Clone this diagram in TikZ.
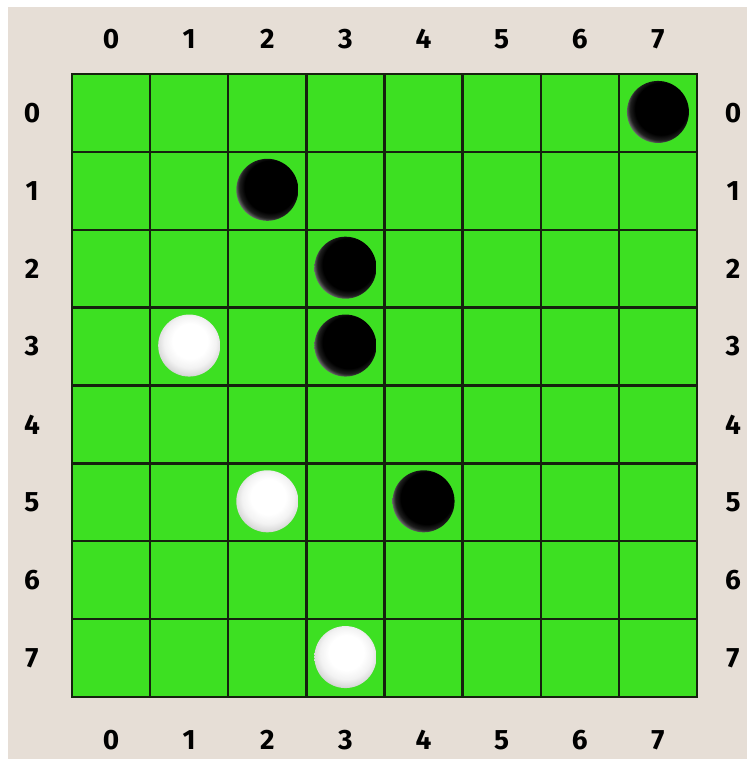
\documentclass[tikz,border=0pt]{standalone}
\usepackage{fontspec}
\setmainfont{Fira Sans}
\usetikzlibrary{calc}
\definecolor{bg}{HTML}{E6DED6}
\definecolor{board}{HTML}{3DE022}
\definecolor{gridc}{HTML}{15220E}
\pgfdeclareradialshading{blackstone}{\pgfpoint{4.5bp}{4.5bp}}{%
  color(0bp)=(black); color(21bp)=(black); color(25bp)=(black!88!white);
  color(28bp)=(black!55!white); color(31bp)=(black!35!white); color(50bp)=(black!35!white)}
\pgfdeclareradialshading{whitestone}{\pgfpoint{1bp}{5bp}}{%
  color(0bp)=(white); color(14bp)=(white); color(21bp)=(black!5!white);
  color(26bp)=(black!14!white); color(30bp)=(black!28!white); color(50bp)=(black!28!white)}
\tikzset{
  lbl/.style={font=\bfseries\fontsize{28}{28}\selectfont, text=black, inner sep=0pt},
  bstone/.style={circle, minimum size=62pt, inner sep=0pt, shading=blackstone},
  wstone/.style={circle, minimum size=62pt, inner sep=0pt, shading=whitestone},
  gridline/.style={draw=gridc, line width=2.4pt},
}
\begin{document}
\begin{tikzpicture}[x=1pt,y=-1pt]
\useasboundingbox (0,0) rectangle (747,759);
\fill[white] (0,0) rectangle (747,759);
\fill[bg] (8,7) rectangle (747,759);
\fill[board] (72,74) rectangle (697,697);
\foreach \i in {1,...,7} {
  \draw[gridline] ({72+\i*78.125},74) -- ({72+\i*78.125},697);
  \draw[gridline] (72,{74+\i*77.875}) -- (697,{74+\i*77.875});
}
\draw[gridline] (72,74) rectangle (697,697);
\foreach \i in {0,...,7} {
  \node[lbl] (t\i) at ({72+(\i+0.5)*78.125},39) {\i};
  \node[lbl] (b\i) at ({72+(\i+0.5)*78.125},740) {\i};
  \node[lbl] (l\i) at (32,{74+(\i+0.5)*77.875}) {\i};
  \node[lbl] (r\i) at (733,{74+(\i+0.5)*77.875}) {\i};
}
% stones: (col,row)
\foreach \c/\r/\n in {7/0/b1,2/1/b2,3/2/b3,3/3/b4,4/5/b5} {
  \node[bstone] (\n) at ({72+(\c+0.5)*78.125},{74+(\r+0.5)*77.875-1}) {};
}
\foreach \c/\r/\n in {1/3/w1,2/5/w2,3/7/w3} {
  \node[wstone] (\n) at ({72+(\c+0.5)*78.125},{74+(\r+0.5)*77.875-1}) {};
}
\end{tikzpicture}
\end{document}
